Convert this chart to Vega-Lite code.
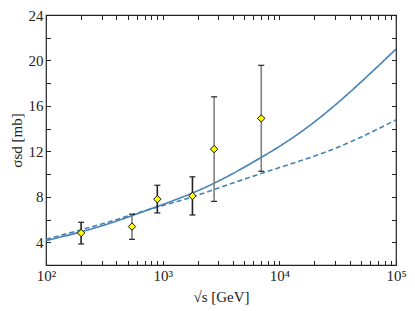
{
  "$schema": "https://vega.github.io/schema/vega-lite/v6.json",
  "width": 350,
  "height": 250,
  "autosize": {"type": "none"},
  "padding": {"left": 46, "top": 15, "right": 19, "bottom": 46},
  "config": {
    "view": {"stroke": "#222", "strokeWidth": 1.2},
    "font": "Liberation Serif",
    "axis": {
      "grid": false,
      "domainColor": "#222",
      "tickColor": "#222",
      "labelColor": "#222",
      "titleColor": "#222",
      "labelFont": "Liberation Serif",
      "titleFont": "Liberation Serif",
      "labelFontSize": 15,
      "titleFontSize": 15,
      "titleFontWeight": "normal",
      "labelFlush": false,
      "labelOverlap": false
    }
  },
  "datasets": {
    "curves": [
      {"E": 100, "sigma": 4.15, "model": "solid"},
      {"E": 199.5, "sigma": 4.92, "model": "solid"},
      {"E": 398.1, "sigma": 5.85, "model": "solid"},
      {"E": 794.3, "sigma": 6.95, "model": "solid"},
      {"E": 1584.9, "sigma": 8.1, "model": "solid"},
      {"E": 3162.3, "sigma": 9.5, "model": "solid"},
      {"E": 6309.6, "sigma": 11.2, "model": "solid"},
      {"E": 12589, "sigma": 13.1, "model": "solid"},
      {"E": 25119, "sigma": 15.4, "model": "solid"},
      {"E": 50119, "sigma": 18.1, "model": "solid"},
      {"E": 100000, "sigma": 21.0, "model": "solid"},
      {"E": 100, "sigma": 4.26, "model": "dashed"},
      {"E": 199.5, "sigma": 5.1, "model": "dashed"},
      {"E": 398.1, "sigma": 5.98, "model": "dashed"},
      {"E": 794.3, "sigma": 6.93, "model": "dashed"},
      {"E": 1584.9, "sigma": 7.82, "model": "dashed"},
      {"E": 3162.3, "sigma": 8.85, "model": "dashed"},
      {"E": 6309.6, "sigma": 9.9, "model": "dashed"},
      {"E": 12589, "sigma": 10.9, "model": "dashed"},
      {"E": 25119, "sigma": 11.95, "model": "dashed"},
      {"E": 50119, "sigma": 13.25, "model": "dashed"},
      {"E": 100000, "sigma": 14.77, "model": "dashed"}
    ],
    "points": [
      {"E": 200, "sigma": 4.82, "lo": 3.85, "hi": 5.76, "experiment": "UA5"},
      {"E": 546, "sigma": 5.38, "lo": 4.26, "hi": 6.47, "experiment": "CDF"},
      {"E": 900, "sigma": 7.79, "lo": 6.58, "hi": 9.02, "experiment": "UA5"},
      {"E": 1800, "sigma": 8.08, "lo": 6.4, "hi": 9.76, "experiment": "E710"},
      {"E": 2760, "sigma": 12.2, "lo": 7.6, "hi": 16.8, "experiment": "ALICE"},
      {"E": 7000, "sigma": 14.9, "lo": 10.25, "hi": 19.57, "experiment": "ALICE"}
    ]
  },
  "layer": [
    {
      "data": {"name": "curves"},
      "mark": {"type": "line", "interpolate": "natural", "strokeWidth": 1.6, "color": "#4682b4", "clip": true},
      "encoding": {
        "x": {
          "field": "E", "type": "quantitative",
          "scale": {"type": "log", "domain": [100, 100000], "nice": false},
          "axis": {
            "orient": "bottom",
            "title": "√s [GeV]",
            "titlePadding": 6,
            "values": [100,200,300,400,500,600,700,800,900,1000,2000,3000,4000,5000,6000,7000,8000,9000,10000,20000,30000,40000,50000,60000,70000,80000,90000,100000],
            "labelExpr": "datum.value == 100 ? '10²' : datum.value == 1000 ? '10³' : datum.value == 10000 ? '10⁴' : datum.value == 100000 ? '10⁵' : ''",
            "tickSize": 4.5,
            "tickWidth": 1,
            "offset": -4.5,
            "domainOpacity": 0,
            "labelPadding": 3
          }
        },
        "y": {
          "field": "sigma", "type": "quantitative",
          "scale": {"domain": [2, 24], "nice": false, "zero": false},
          "axis": {
            "orient": "left",
            "title": "σsd [mb]",
            "titlePadding": 4,
            "values": [4, 6, 8, 10, 12, 14, 16, 18, 20, 22, 24],
            "labelExpr": "datum.value % 4 == 0 ? datum.label : ''",
            "tickSize": 4.5,
            "tickWidth": 1,
            "offset": -4.5,
            "domainOpacity": 0,
            "labelPadding": 3
          }
        },
        "strokeDash": {
          "field": "model", "type": "nominal",
          "scale": {"domain": ["solid", "dashed"], "range": [[1, 0], [5, 3]]},
          "legend": null
        }
      }
    },
    {
      "data": {"name": "points"},
      "mark": {"type": "rule", "strokeWidth": 1.6},
      "encoding": {
        "x": {"field": "E", "type": "quantitative", "axis": null},
        "y": {"field": "lo", "type": "quantitative", "axis": null},
        "y2": {"field": "hi"},
        "color": {
          "field": "experiment", "type": "nominal",
          "scale": {"domain": ["UA5", "CDF", "E710", "ALICE"], "range": ["#222222", "#808080", "#222222", "#808080"]},
          "legend": null
        }
      }
    },
    {
      "data": {"name": "points"},
      "mark": {"type": "point", "shape": "M -1 0 L 1 0", "size": 36, "filled": false, "stroke": "#222", "strokeWidth": 1.2, "opacity": 1},
      "encoding": {
        "x": {"field": "E", "type": "quantitative", "axis": null},
        "y": {"field": "lo", "type": "quantitative", "axis": null}
      }
    },
    {
      "data": {"name": "points"},
      "mark": {"type": "point", "shape": "M -1 0 L 1 0", "size": 36, "filled": false, "stroke": "#222", "strokeWidth": 1.2, "opacity": 1},
      "encoding": {
        "x": {"field": "E", "type": "quantitative", "axis": null},
        "y": {"field": "hi", "type": "quantitative", "axis": null}
      }
    },
    {
      "data": {"name": "points"},
      "mark": {"type": "point", "shape": "diamond", "filled": true, "fill": "#ffff00", "stroke": "#111", "strokeWidth": 1, "size": 55, "opacity": 1},
      "encoding": {
        "x": {"field": "E", "type": "quantitative", "axis": null},
        "y": {"field": "sigma", "type": "quantitative", "axis": null}
      }
    },
    {
      "data": {"name": "points"},
      "mark": {"type": "point", "opacity": 0},
      "encoding": {
        "x": {
          "field": "E", "type": "quantitative",
          "axis": {
            "orient": "top", "title": null, "labels": false, "domainOpacity": 0,
            "values": [100,200,300,400,500,600,700,800,900,1000,2000,3000,4000,5000,6000,7000,8000,9000,10000,20000,30000,40000,50000,60000,70000,80000,90000,100000],
            "tickSize": 4.5, "tickColor": "#222", "tickWidth": 1, "offset": -4.5
          }
        },
        "y": {
          "field": "sigma", "type": "quantitative",
          "axis": {
            "orient": "right", "title": null, "labels": false, "domainOpacity": 0,
            "values": [4, 6, 8, 10, 12, 14, 16, 18, 20, 22, 24],
            "tickSize": 4.5, "tickColor": "#222", "tickWidth": 1, "offset": -4.5
          }
        }
      }
    }
  ],
  "resolve": {"axis": {"x": "independent", "y": "independent"}}
}
